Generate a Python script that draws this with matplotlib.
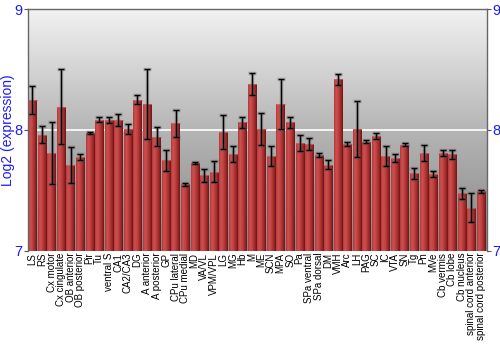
import numpy as np
import matplotlib
matplotlib.use("Agg")
import matplotlib.pyplot as plt
from matplotlib.colors import LinearSegmentedColormap

plt.rcParams['font.family'] = ['Liberation Sans', 'DejaVu Sans']

regions = ['LS', 'RS', 'Cx motor', 'Cx cingulate', 'OB anterior', 'OB posterior', 'Pir', 'Tu',
           'ventral S', 'CA1', 'CA2/CA3', 'DG', 'A anterior', 'A posterior', 'GP', 'CPu lateral',
           'CPu medial', 'MD', 'VA/VL', 'VPM/VPL', 'LG', 'MG', 'Hb', 'M', 'ME', 'SCN', 'MPA', 'SO',
           'Pa', 'SPa ventral', 'SPa dorsal', 'DM', 'VMH', 'Arc', 'LH', 'PAG', 'SC', 'IC', 'VTA',
           'SN', 'Tg', 'Pn', 'MVe', 'Cb vermis', 'Cb lobe', 'Cb nucleus', 'spinal cord anterior',
           'spinal cord posterior']
expression = [8.249, 7.959, 7.807, 8.193, 7.710, 7.776, 7.972, 8.083,
              8.080, 8.083, 8.008, 8.249, 8.215, 7.942, 7.749, 8.055,
              7.550, 7.727, 7.622, 7.655, 7.983, 7.798, 8.064, 8.378, 8.008, 7.785, 8.213, 8.061,
              7.890, 7.884, 7.793, 7.713, 8.420, 7.884, 8.008, 7.901, 7.950, 7.785, 7.765,
              7.878, 7.641, 7.807, 7.633, 7.807, 7.796, 7.475, 7.356,
              7.492]
error = [0.116, 0.072, 0.256, 0.310, 0.150, 0.023, 0.008, 0.022,
         0.023, 0.048, 0.044, 0.039, 0.289, 0.079, 0.087, 0.112,
         0.012, 0.010, 0.055, 0.087, 0.141, 0.068, 0.046, 0.093, 0.133, 0.083, 0.206, 0.044,
         0.065, 0.050, 0.018, 0.037, 0.046, 0.014, 0.231, 0.014, 0.025, 0.083, 0.033,
         0.011, 0.047, 0.068, 0.025, 0.027, 0.041, 0.044, 0.117,
         0.012]

blue = '#1a1aff'
base = 7

fig = plt.figure(figsize=(5, 3.5), dpi=100, facecolor='white')
ax = fig.add_axes([0.0554, 0.284, 0.918, 0.69])

x = np.arange(len(regions))
ax.set_xlim(-0.5, len(regions) - 0.4)
ax.set_ylim(7, 9)

# grey gradient background
bg = LinearSegmentedColormap.from_list('bg', ['#858585', '#b5b5b5', '#f2f2f2'])
ax.imshow(np.linspace(0, 1, 256).reshape(-1, 1), extent=[0, 1, 0, 1], transform=ax.transAxes,
          cmap=bg, aspect='auto', origin='lower', zorder=0)
ax.axhline(8, color='white', lw=1.2, zorder=1)

# bars with horizontal red gradient
bar_cm = LinearSegmentedColormap.from_list('bar', ['#b33a3a', '#cf5050', '#bf4040', '#a02c2c', '#6e1515'])
grad = np.linspace(0, 1, 64).reshape(1, -1)
bars = ax.bar(x, np.array(expression) - base, bottom=base, width=0.87, color='none',
              edgecolor='none', zorder=2)
for b in bars:
    im = ax.imshow(grad, extent=[b.get_x(), b.get_x() + b.get_width(), base, base + b.get_height()],
                   cmap=bar_cm, aspect='auto', zorder=2)
    im.set_clip_path(b)
    ax.plot([b.get_x(), b.get_x() + b.get_width()], [base + b.get_height()] * 2,
            color='#d87070', lw=0.8, alpha=0.6, zorder=2.5)

# error bars, soft shadow first
ax.errorbar(x, expression, yerr=error, fmt='none', ecolor='#555555', alpha=0.35,
            elinewidth=2.5, capsize=3, capthick=2.5, zorder=3)
ax.errorbar(x, expression, yerr=error, fmt='none', ecolor='black',
            elinewidth=1, capsize=2.5, capthick=1, zorder=4)

ax.set_yticks([7, 8, 9])
ax.set_xticks(x)
ax.set_xticklabels(regions, rotation=90, fontsize=7, color='black')
ax.tick_params(axis='x', length=0, pad=1.5)
ax.tick_params(axis='y', colors='#555555', labelcolor=blue, labelsize=10.5, length=3,
               right=True, labelright=True, pad=1)
ax.set_ylabel('Log2 (expression)', color=blue, fontsize=10)
ax.yaxis.set_label_coords(-0.028, 0.5)

for side in ['left', 'right', 'top']:
    ax.spines[side].set_color('#666666')
    ax.spines[side].set_linewidth(1)
ax.spines['bottom'].set_visible(False)

fig.savefig('out.png', dpi=100)
